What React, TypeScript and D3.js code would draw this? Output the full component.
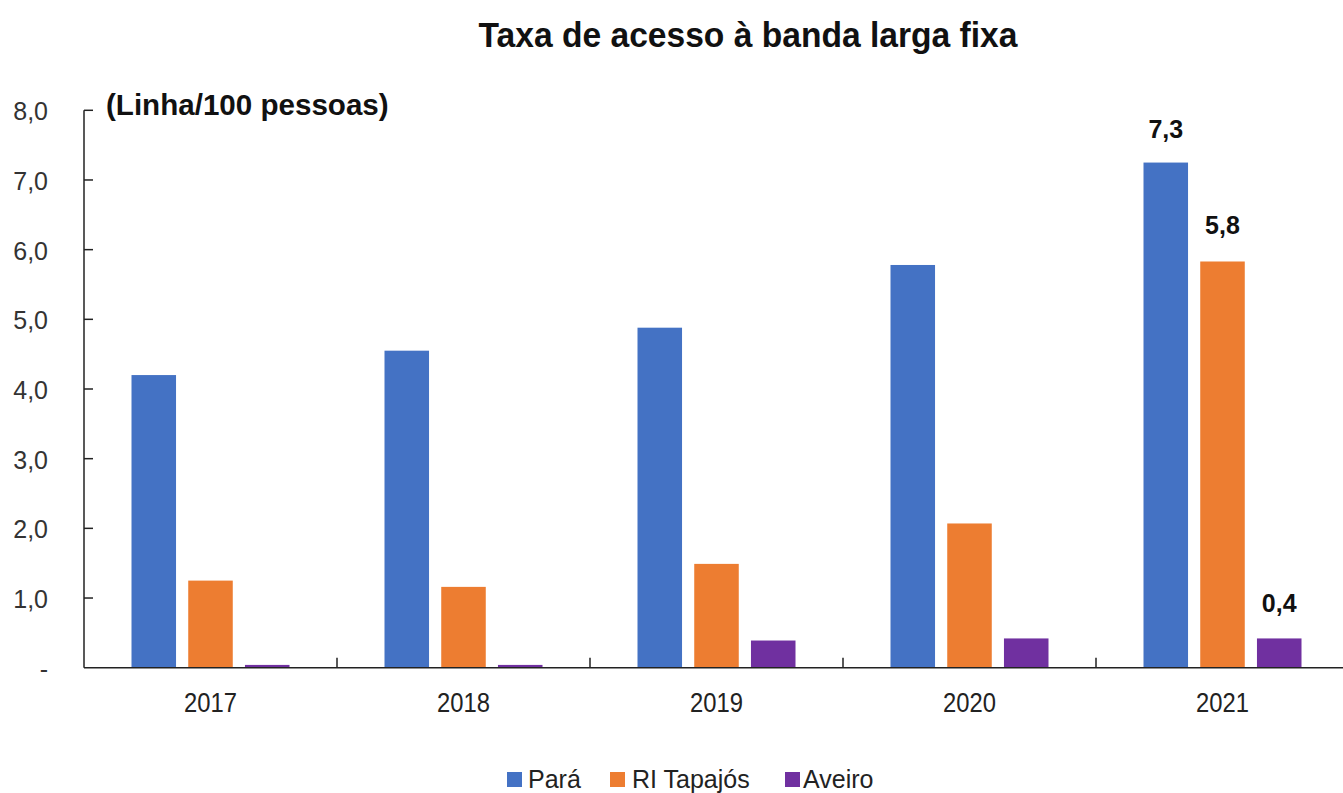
import React from "react";
import * as d3 from "d3";

const years = ["2017", "2018", "2019", "2020", "2021"];
const seriesNames = ["Pará", "RI Tapajós", "Aveiro"];
const para = [4.2, 4.55, 4.88, 5.78, 7.25];
const riTapajos = [1.25, 1.16, 1.49, 2.07, 5.83];
const aveiro = [0.04, 0.04, 0.39, 0.42, 0.42];
const colors = ["#4472C4", "#ED7D31", "#7030A0"];
const yTicks = [0, 1, 2, 3, 4, 5, 6, 7, 8];
const labeledYear = "2021";
const dataLabels = ["7,3", "5,8", "0,4"];

const FONT = "'Liberation Sans', Arial, sans-serif";

export default function App() {
  const W = 1343, H = 793;
  const x0 = d3.scaleBand<string>().domain(years).range([84, 1349]).padding(0);
  const y = d3.scaleLinear().domain([0, 8]).range([667.7, 110.3]);
  const values = [para, riTapajos, aveiro];
  const fmt = (v: number) => (v === 0 ? "-" : d3.format(".1f")(v).replace(".", ","));
  const labelOffsets = [25, 27, 26];
  const legendPos = [
    { x: 507, tx: 528 },
    { x: 610, tx: 632 },
    { x: 785, tx: 803 },
  ];

  return (
    <svg width={W} height={H} style={{ position: "absolute", left: 0, top: 0, background: "#fff" }}>
      <text transform="translate(748,47) scale(0.96,1)" textAnchor="middle" fontFamily={FONT}
        fontWeight="bold" fontSize={35} fill="#111">
        Taxa de acesso à banda larga fixa
      </text>
      <text transform="translate(106,115) scale(1.02,1)" fontFamily={FONT} fontWeight="bold" fontSize={29} fill="#111">
        (Linha/100 pessoas)
      </text>
      {/* y axis */}
      <line x1={84} x2={84} y1={y(8)} y2={y(0)} stroke="#222" strokeWidth={1.5} />
      {yTicks.map((t) => (
        <g key={t}>
          {t > 0 && <line x1={84} x2={93} y1={y(t)} y2={y(t)} stroke="#222" strokeWidth={1.5} />}
          <text x={48} y={y(t) + 10} textAnchor="end" fontFamily={FONT} fontSize={25} fill="#333">
            {fmt(t)}
          </text>
        </g>
      ))}
      {/* bars */}
      {years.map((yr, i) => {
        const c = (x0(yr) as number) + x0.bandwidth() / 2;
        const x1 = d3.scaleBand<string>().domain(seriesNames).range([c - 79, c + 79]).paddingInner(0.215);
        return (
          <g key={yr}>
            {seriesNames.map((s, j) => {
              const v = values[j][i];
              return (
                <rect key={s} x={x1(s)} y={y(v)} width={x1.bandwidth()} height={y(0) - y(v)} fill={colors[j]} />
              );
            })}
            {yr === labeledYear &&
              seriesNames.map((s, j) => (
                <text key={s} x={(x1(s) as number) + x1.bandwidth() / 2} y={y(values[j][i]) - labelOffsets[j]}
                  textAnchor="middle" fontFamily={FONT} fontWeight="bold" fontSize={25} fill="#111">
                  {dataLabels[j]}
                </text>
              ))}
            <text transform={`translate(${c},712) scale(0.85,1)`} textAnchor="middle" fontFamily={FONT}
              fontSize={28} fill="#222">{yr}</text>
          </g>
        );
      })}
      {/* x axis */}
      <line x1={84} x2={1343} y1={y(0)} y2={y(0)} stroke="#222" strokeWidth={1.5} />
      {years.slice(1).map((yr) => (
        <line key={yr} x1={x0(yr)} x2={x0(yr)} y1={y(0) - 10} y2={y(0)} stroke="#222" strokeWidth={1.5} />
      ))}
      {/* legend */}
      {legendPos.map((p, j) => (
        <g key={j}>
          <rect x={p.x} y={772} width={15} height={15} fill={colors[j]} />
          <text x={p.tx} y={788} fontFamily={FONT} fontSize={25} fill="#222">{seriesNames[j]}</text>
        </g>
      ))}
    </svg>
  );
}
